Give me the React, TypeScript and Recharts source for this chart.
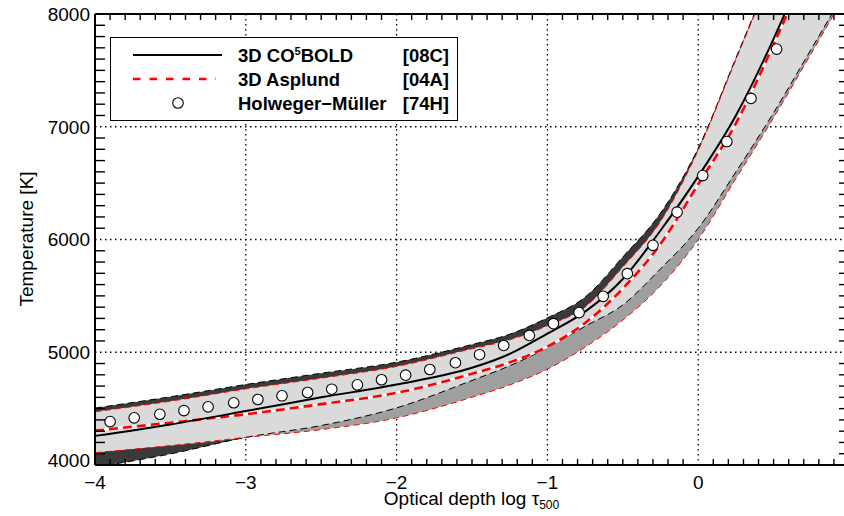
import React from 'react';
import { ComposedChart, Area, Line, Scatter, XAxis, YAxis, CartesianGrid } from 'recharts';

// optical depth grid (log tau_500)
const LOG_TAU = [-4, -3.5, -3, -2.5, -2, -1.5, -1.25, -1, -0.75, -0.5, -0.25, 0, 0.25, 0.5, 0.75, 1.0];
// 3D CO5BOLD: mean and band limits [K]
const CO5_MEAN = [4258, 4360, 4478, 4600, 4714, 4862, 4985, 5165, 5360, 5650, 6080, 6560, 7100, 7780, 8560, 9400];
const CO5_UPPER = [4505, 4605, 4714, 4814, 4912, 5069, 5160, 5305, 5489, 5845, 6234, 6810, 7610, 8420, 9270, 10150];
const CO5_LOWER = [3980, 4098, 4245, 4350, 4507, 4750, 4880, 5040, 5230, 5420, 5740, 6100, 6600, 7125, 7690, 8260];
// 3D Asplund: mean and band limits [K]
const ASP_MEAN = [4305, 4375, 4450, 4540, 4640, 4809, 4910, 5050, 5260, 5565, 5960, 6490, 7030, 7730, 8500, 9330];
const ASP_UPPER = [4472, 4566, 4675, 4770, 4874, 5031, 5110, 5235, 5401, 5756, 6160, 6790, 7595, 8405, 9255, 10130];
const ASP_LOWER = [4110, 4172, 4245, 4314, 4418, 4601, 4710, 4850, 5045, 5285, 5590, 6000, 6540, 7080, 7650, 8230];
// Holweger-Mueller model
const HM_LOG_TAU = [-3.90, -3.74, -3.57, -3.41, -3.25, -3.08, -2.92, -2.76, -2.59, -2.43, -2.26, -2.10, -1.94, -1.78, -1.61, -1.45, -1.29, -1.12, -0.96, -0.79, -0.63, -0.47, -0.30, -0.14, 0.03, 0.19, 0.35, 0.52];
const HM_TEMP = [4385, 4418, 4450, 4483, 4516, 4552, 4581, 4614, 4643, 4672, 4711, 4756, 4797, 4847, 4907, 4978, 5060, 5149, 5253, 5352, 5496, 5697, 5948, 6242, 6567, 6869, 7251, 7689];

const X_TICKS = [-4, -3, -2, -1, 0];
const Y_TICKS = [4000, 5000, 6000, 7000, 8000];
const X_DOMAIN: [number, number] = [-4, 1];
const Y_DOMAIN: [number, number] = [4000, 8000];

// all tick marks (majors labelled, minors drawn as short inward marks)
const ALL_X = Array.from({ length: 50 }, (_, i) => Math.round((-4 + 0.1 * i) * 10) / 10);
const ALL_Y = Array.from({ length: 41 }, (_, i) => 4000 + 100 * i);

const rows = LOG_TAU.map((x, i) => ({
  x,
  co5Band: [CO5_LOWER[i], CO5_UPPER[i]],
  aspBand: [ASP_LOWER[i], ASP_UPPER[i]],
  overlap: [Math.max(CO5_LOWER[i], ASP_LOWER[i]), Math.min(CO5_UPPER[i], ASP_UPPER[i])],
  co5Mean: CO5_MEAN[i],
  co5Upper: CO5_UPPER[i],
  co5Lower: CO5_LOWER[i],
  aspMean: ASP_MEAN[i],
  aspUpper: ASP_UPPER[i],
  aspLower: ASP_LOWER[i],
}));

const hmRows = HM_LOG_TAU.map((x, i) => ({ x, t: HM_TEMP[i] }));

// layout
const CHART_W = 846;
const CHART_H = 516;
const MARGIN = { top: 14, right: 5, bottom: 11, left: 0 };
const X_AXIS_H = 40;
const Y_AXIS_W = 87;
const PLOT_W = CHART_W - MARGIN.left - MARGIN.right - Y_AXIS_W;
const PLOT_H = CHART_H - MARGIN.top - MARGIN.bottom - X_AXIS_H;
const X_TICK_MARGIN = 11;
const Y_TICK_MARGIN = 5;

const FONT = '"Liberation Sans", Arial, Helvetica, sans-serif';
const fmt = (v: number) => (v < 0 ? '\u2212' + Math.abs(v) : String(v));

const HMDot = (props: any) => {
  const { cx, cy } = props;
  if (cx == null || cy == null) return null;
  return <circle cx={cx} cy={cy} r={5.3} fill="#fff" stroke="#000" strokeWidth={1.1} />;
};

const XTick = (props: any) => {
  const { x, y, payload } = props;
  const v = payload.value;
  const major = Math.abs(v - Math.round(v)) < 1e-6;
  const axisY = y - X_TICK_MARGIN;
  if (major) {
    return (
      <text x={x} y={y} dy="0.71em" textAnchor="middle" fill="#000" fontSize={19} fontFamily={FONT}>
        {fmt(Math.round(v))}
      </text>
    );
  }
  return (
    <g stroke="#000" strokeWidth={1.4}>
      <line x1={x} x2={x} y1={axisY} y2={axisY - 6} />
      <line x1={x} x2={x} y1={axisY - PLOT_H} y2={axisY - PLOT_H + 6} />
    </g>
  );
};

const YTick = (props: any) => {
  const { x, y, payload } = props;
  const v = payload.value;
  const axisX = x + Y_TICK_MARGIN;
  if (v % 1000 === 0) {
    const shift = v === 4000 ? -5 : 0;
    return (
      <text x={x} y={y + shift} dy="0.36em" textAnchor="end" fill="#000" fontSize={19} fontFamily={FONT}>
        {v}
      </text>
    );
  }
  return (
    <g stroke="#000" strokeWidth={1.4}>
      <line x1={axisX} x2={axisX + 10} y1={y} y2={y} />
      <line x1={axisX + PLOT_W} x2={axisX + PLOT_W - 10} y1={y} y2={y} />
    </g>
  );
};

const dark = '#3a3a3a';
const mid = '#9f9f9f';
const light = '#dadada';

const FrameTop = (props: any) => null;

export default function App() {
  return (
    <div style={{ position: 'absolute', left: 8, top: 0, width: 836, height: 516, overflow: 'hidden', background: '#fff' }}>
      <ComposedChart width={CHART_W} height={CHART_H} data={rows} margin={MARGIN}>
        <CartesianGrid
          stroke="#000"
          strokeWidth={1.3}
          strokeDasharray="1.5 3.5"
          verticalValues={X_TICKS}
          horizontalValues={Y_TICKS}
        />
        <Area type="monotone" dataKey="co5Band" stroke="none" fill={dark} fillOpacity={1} isAnimationActive={false} dot={false} activeDot={false} />
        <Area type="monotone" dataKey="aspBand" stroke="none" fill={mid} fillOpacity={1} isAnimationActive={false} dot={false} activeDot={false} />
        <Area type="monotone" dataKey="overlap" stroke="none" fill={light} fillOpacity={1} isAnimationActive={false} dot={false} activeDot={false} />
        <Line type="monotone" dataKey="co5Upper" stroke="#000" strokeWidth={1} strokeDasharray="7 4" dot={false} activeDot={false} isAnimationActive={false} />
        <Line type="monotone" dataKey="co5Lower" stroke="#000" strokeWidth={1} strokeDasharray="7 4" dot={false} activeDot={false} isAnimationActive={false} />
        <Line type="monotone" dataKey="aspUpper" stroke="#ff0000" strokeWidth={1} strokeDasharray="6 4" dot={false} activeDot={false} isAnimationActive={false} />
        <Line type="monotone" dataKey="aspLower" stroke="#ff0000" strokeWidth={1} strokeDasharray="6 4" dot={false} activeDot={false} isAnimationActive={false} />
        <Line type="monotone" dataKey="aspMean" stroke="#ffffff" strokeWidth={2.5} dot={false} activeDot={false} isAnimationActive={false} />
        <Line type="monotone" dataKey="aspMean" stroke="#ff0000" strokeWidth={2.6} strokeDasharray="9 5" dot={false} activeDot={false} isAnimationActive={false} />
        <Line type="monotone" dataKey="co5Mean" stroke="#000" strokeWidth={2} dot={false} activeDot={false} isAnimationActive={false} />
        <Scatter data={hmRows} dataKey="t" shape={HMDot} isAnimationActive={false} />

        <XAxis
          dataKey="x"
          type="number"
          domain={X_DOMAIN}
          allowDataOverflow
          ticks={ALL_X}
          interval={0}
          tickLine={false}
          tickSize={0}
          tickMargin={X_TICK_MARGIN}
          height={X_AXIS_H}
          axisLine={{ stroke: '#000', strokeWidth: 2 }}
          tick={<XTick />}
        />
        <YAxis
          type="number"
          domain={Y_DOMAIN}
          allowDataOverflow
          ticks={ALL_Y}
          interval={0}
          tickLine={false}
          tickSize={0}
          tickMargin={Y_TICK_MARGIN}
          width={Y_AXIS_W}
          axisLine={{ stroke: '#000', strokeWidth: 2 }}
          tick={<YTick />}
        />
      </ComposedChart>

      <svg width={836} height={516} style={{ position: 'absolute', left: 0, top: 0, pointerEvents: 'none' }}>
        {/* top frame line (right frame lies beyond the crop) */}
        <line x1={Y_AXIS_W} x2={836} y1={MARGIN.top} y2={MARGIN.top} stroke="#000" strokeWidth={2} />
        <g fontFamily={FONT} fill="#000">
          <rect x={102.5} y={37.5} width={347} height={83} fill="#fff" stroke="#000" strokeWidth={1} />
          <line x1={125} y1={55} x2={214} y2={55} stroke="#000" strokeWidth={2} />
          <line x1={125} y1={79} x2={208} y2={79} stroke="#ff0000" strokeWidth={2.5} strokeDasharray="7.5 9" />
          <circle cx={170} cy={103} r={5.3} fill="#fff" stroke="#000" strokeWidth={1.1} />
          <text x={230} y={61.5} fontSize={18.5} fontWeight="bold">
            3D CO<tspan fontSize={11} dy={-7}>5</tspan><tspan dy={7}>BOLD</tspan>
          </text>
          <text x={441} y={61.5} fontSize={18.5} fontWeight="bold" textAnchor="end">[08C]</text>
          <text x={230} y={85.5} fontSize={18.5} fontWeight="bold">3D Asplund</text>
          <text x={441} y={85.5} fontSize={18.5} fontWeight="bold" textAnchor="end">[04A]</text>
          <text x={230} y={109.5} fontSize={18.5} fontWeight="bold">Holweger{'\u2212'}Müller</text>
          <text x={441} y={109.5} fontSize={18.5} fontWeight="bold" textAnchor="end">[74H]</text>

          <text x={463.5} y={505} fontSize={19} textAnchor="middle">
            Optical depth log {'\u03C4'}<tspan fontSize={12} dy={4}>500</tspan>
          </text>
          <text x={24.5} y={239} fontSize={19} textAnchor="middle" transform="rotate(-90 24.5 239)">
            Temperature [K]
          </text>
        </g>
      </svg>
    </div>
  );
}
